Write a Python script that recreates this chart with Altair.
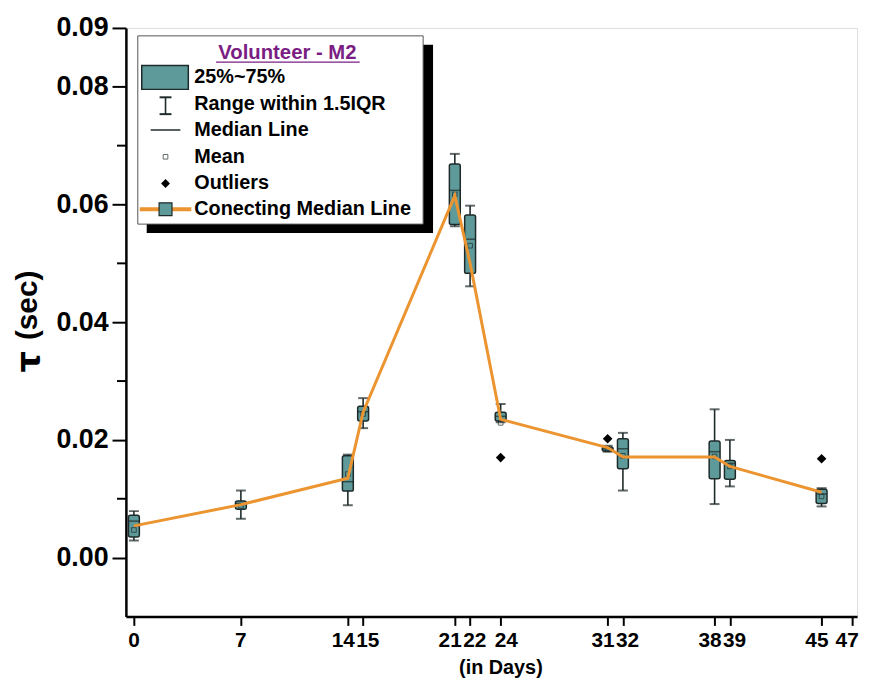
import altair as alt
import pandas as pd

# ---- data ----
days = [0, 7, 14, 15, 21, 22, 24, 31, 32, 38, 39, 45]
q1 = [0.0035, 0.0082, 0.0113, 0.0232, 0.0566, 0.0483, 0.0232, 0.0181, 0.0151, 0.0134, 0.0133, 0.0092]
q3 = [0.0072, 0.0096, 0.0173, 0.0257, 0.0669, 0.0582, 0.0247, 0.0188, 0.0202, 0.0198, 0.0165, 0.0116]
wlo = [0.0029, 0.0066, 0.0089, 0.0220, 0.0563, 0.0461, 0.0230, 0.0180, 0.0114, 0.0091, 0.0121, 0.0087]
whi = [0.0079, 0.0114, 0.0175, 0.0271, 0.0686, 0.0598, 0.0261, 0.0190, 0.0212, 0.0252, 0.0200, 0.0118]
median = [0.0062, 0.0092, 0.0129, 0.0248, 0.0624, 0.0541, 0.0240, 0.0185, 0.0185, 0.0180, 0.0160, 0.0108]
mean = [0.0047, 0.0088, 0.0142, 0.0244, 0.0617, 0.0530, 0.0229, 0.0184, 0.0173, 0.0172, 0.0155, 0.0104]
trend = [0.0054, 0.0090, 0.0135, 0.0247, 0.0615, 0.0500, 0.0235, 0.0187, 0.0171, 0.0171, 0.0155, 0.0111]
out_days = [24, 31, 45]
out_vals = [0.0170, 0.0202, 0.0168]
x_ticks = [0, 7, 14, 15, 21, 22, 24, 31, 32, 38, 39, 45, 47]
y_major = [0.0, 0.02, 0.04, 0.06, 0.08, 0.09]
y_minor = [0.01, 0.03, 0.05, 0.07]
legend_labels = ["25%~75%", "Range within 1.5IQR", "Median Line", "Mean", "Outliers", "Conecting Median Line"]

# label placement for crowded x tick labels (style only)
label_align = ["center", "center", "right", "left", "right", "left", "left",
               "right", "left", "right", "left", "right", "center"]
label_dx = [0, 0, 7, -7, 7, -7, -6, 7, -7, 7, -7, 7, -5]

TEAL = "#5E9A9A"
DARK = "#1E2A2A"
ORANGE = "#EB9430"
PURPLE = "#7A1E84"
FONT = "Liberation Sans"

box_df = pd.DataFrame(dict(day=days, q1=q1, q3=q3, wlo=wlo, whi=whi, median=median, mean=mean))
line_df = pd.DataFrame(dict(day=days, trend=trend))
out_df = pd.DataFrame(dict(day=out_days, value=out_vals))
minor_df = pd.DataFrame(dict(v=y_minor))
tick_df = pd.DataFrame(dict(day=x_ticks, label=[str(t) for t in x_ticks],
                            al=label_align, dx=label_dx))
one = pd.DataFrame({"a": [0]})

xs = alt.Scale(domain=[-0.2, 47], nice=False, zero=False)
ys = alt.Scale(domain=[-0.01, 0.09], nice=False, zero=False)

x_axis = alt.Axis(
    values=x_ticks, title="(in Days)", grid=False, domainColor="black", domainWidth=2.5,
    tickColor="black", tickWidth=2, tickSize=9, labels=False,
    titleFont=FONT, titleFontSize=20, titleFontWeight="bold",
    titleColor="black", titleBaseline="alphabetic", titleY=58, titleX=378,
)
y_axis = alt.Axis(
    values=y_major, title="", grid=False, domainColor="black", domainWidth=2.5,
    tickColor="black", tickWidth=2, tickSize=14, format=".2f", labelFont=FONT,
    labelFontSize=27, labelFontWeight="bold", labelColor="black", labelPadding=4,
    labelOverlap=False,
)


def X(field="day"):
    return alt.X(f"{field}:Q", scale=xs, axis=x_axis, title="(in Days)")


def Y(field):
    return alt.Y(f"{field}:Q", scale=ys, axis=y_axis, title="")


base = alt.Chart(box_df)

whisk = base.mark_rule(color=DARK, strokeWidth=1.6).encode(x=X(), y=Y("wlo"), y2="whi:Q")
cap_hi = base.mark_tick(orient="horizontal", size=10, thickness=2, color=DARK).encode(
    x=X(), y=Y("whi"))
cap_lo = base.mark_tick(orient="horizontal", size=10, thickness=2, color=DARK).encode(
    x=X(), y=Y("wlo"))
boxes = base.mark_bar(orient="vertical", size=11, fill=TEAL, stroke=DARK, strokeWidth=1.5,
                      cornerRadius=2).encode(x=X(), y=Y("q1"), y2="q3:Q")
med = base.mark_tick(orient="horizontal", size=11, thickness=1.5, color=DARK).encode(
    x=X(), y=Y("median"))
means = base.mark_point(shape="square", size=22, filled=False, stroke=DARK, strokeWidth=1).encode(
    x=X(), y=Y("mean"))
line = alt.Chart(line_df).mark_line(color=ORANGE, strokeWidth=3).encode(x=X(), y=Y("trend"))
outl = alt.Chart(out_df).mark_point(shape="diamond", size=95, filled=True, color="black",
                                    opacity=1).encode(x=X(), y=Y("value"))
minor = alt.Chart(minor_df).mark_rule(color="black", strokeWidth=2).encode(
    x=alt.value(-9), x2=alt.value(0), y=Y("v"))

# x tick labels, nudged apart where ticks are crowded
label_layers = []
for (al, dx), grp in tick_df.groupby(["al", "dx"]):
    label_layers.append(
        alt.Chart(grp.reset_index(drop=True)).mark_text(
            font=FONT, fontSize=21, fontWeight="bold", color="black",
            align=al, dx=int(dx), baseline="middle").encode(
            x=X(), y=alt.value(619), text="label:N"))

# ---- hand-drawn legend (pixel placement inside the plot) ----
L = alt.Chart(one)
shadow = L.mark_rect(color="black").encode(
    x=alt.value(21), x2=alt.value(310), y=alt.value(17), y2=alt.value(207))
lbox = L.mark_rect(fill="white", stroke="#555", strokeWidth=1).encode(
    x=alt.value(12), x2=alt.value(300), y=alt.value(8), y2=alt.value(198))
ltitle = L.mark_text(text="Volunteer - M2", font=FONT, fontSize=20.5, fontWeight="bold",
                     color=PURPLE, align="center", baseline="alphabetic").encode(
    x=alt.value(163), y=alt.value(31))
lunder = L.mark_rule(color=PURPLE, strokeWidth=1.5).encode(
    x=alt.value(91), x2=alt.value(236), y=alt.value(34.5))
lswatch = L.mark_rect(fill=TEAL, stroke=DARK, strokeWidth=1.5).encode(
    x=alt.value(16), x2=alt.value(63), y=alt.value(38), y2=alt.value(62))
lwh = L.mark_rule(color=DARK, strokeWidth=1.6).encode(
    x=alt.value(40), y=alt.value(70), y2=alt.value(87))
lwc1 = L.mark_rule(color=DARK, strokeWidth=2).encode(
    x=alt.value(34), x2=alt.value(46), y=alt.value(70))
lwc2 = L.mark_rule(color=DARK, strokeWidth=2).encode(
    x=alt.value(34), x2=alt.value(46), y=alt.value(87))
lmed = L.mark_rule(color=DARK, strokeWidth=1.5).encode(
    x=alt.value(25), x2=alt.value(55), y=alt.value(103))
lmean = L.mark_point(shape="square", size=22, filled=False, stroke=DARK, strokeWidth=1).encode(
    x=alt.value(40), y=alt.value(130))
lout = L.mark_point(shape="diamond", size=80, filled=True, color="black", opacity=1).encode(
    x=alt.value(40), y=alt.value(157))
lline = L.mark_rule(color=ORANGE, strokeWidth=4).encode(
    x=alt.value(14), x2=alt.value(66), y=alt.value(183))
lsq = L.mark_point(shape="square", size=170, filled=True, fill=TEAL, stroke=DARK,
                   strokeWidth=1.2, opacity=1).encode(
    x=alt.value(40), y=alt.value(183))

text_layers = []
row_y = [50, 77, 103, 130, 157, 183]
for lab, yy in zip(legend_labels, row_y):
    text_layers.append(L.mark_text(text=lab, font=FONT, fontSize=20, fontWeight="bold",
                                   color="black", align="left", baseline="middle").encode(
        x=alt.value(69), y=alt.value(yy)))

# ---- y axis title, tau drawn larger ----
ysec = L.mark_text(text="(sec)", font=FONT, fontSize=30, fontWeight="bold", color="black",
                   angle=270, align="center", baseline="middle").encode(
    x=alt.value(-99), y=alt.value(280))
ytau = L.mark_text(text="τ", font="DejaVu Sans", fontSize=34, fontWeight="bold", color="black",
                   angle=270, align="center", baseline="middle").encode(
    x=alt.value(-97), y=alt.value(337))

chart = alt.layer(
    whisk, cap_hi, cap_lo, boxes, med, means, line, outl, minor, *label_layers,
    shadow, lbox, ltitle, lunder, lswatch, lwh, lwc1, lwc2, lmed, lmean, lout, lline, lsq,
    *text_layers, ysec, ytau,
).properties(
    width=738, height=594,
    autosize=alt.AutoSizeParams(type="none"),
    padding={"left": 119, "top": 17, "right": 10, "bottom": 62},
).configure_view(stroke="transparent", strokeWidth=0).configure(background="white")

chart.save("out.html", embed_options={"renderer": "svg", "actions": False})
